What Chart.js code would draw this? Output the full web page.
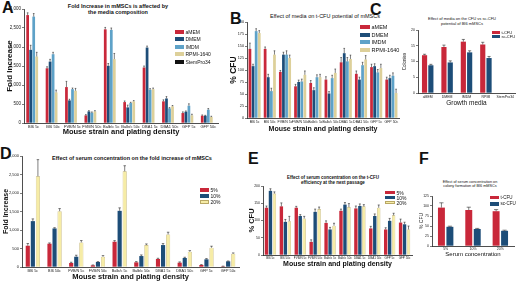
<!DOCTYPE html>
<html>
<head>
<meta charset="utf-8">
<script src="https://cdn.jsdelivr.net/npm/chart.js@4.4.1/dist/chart.umd.min.js"></script>
<style>
body{margin:0;width:520px;height:283px;background:#fff;position:relative;overflow:hidden;font-family:"Liberation Sans",Arial,sans-serif;color:#111;}
canvas{position:absolute;}
.ttl{position:absolute;text-align:center;white-space:nowrap;line-height:1.15;transform:translateX(-50%);}
.lbl{position:absolute;font-weight:bold;font-size:16px;line-height:1;}
.leg{position:absolute;}
.leg div{display:flex;align-items:center;white-space:nowrap;}
.leg span{display:inline-block;box-sizing:border-box;}
</style>
</head>
<body>
<div class="lbl" style="left:2px;top:0px">A</div>
<div class="lbl" style="left:230px;top:11px">B</div>
<div class="lbl" style="left:370px;top:2px">C</div>
<div class="lbl" style="left:0px;top:146px">D</div>
<div class="lbl" style="left:248px;top:151px">E</div>
<div class="lbl" style="left:419px;top:151px">F</div>

<div class="ttl" style="left:118px;top:3px;font-size:5.5px;font-weight:bold">Fold Increase in mMSCs is affected by<br>the media composition</div>
<div class="ttl" style="left:325px;top:13px;font-size:5.5px">Effect of media on t-CFU potential of mMSCs</div>
<div class="ttl" style="left:462px;top:17px;font-size:4px">Effect of media on the CFU vs sc-CFU<br>potential of BI6 mMSCs</div>
<div class="ttl" style="left:132px;top:155px;font-size:5.5px;font-weight:bold">Effect of serum concentration on the fold increase of mMSCs</div>
<div class="ttl" style="left:333px;top:175px;font-size:4.5px;font-weight:bold">Effect of serum concentration on the t-CFU<br>efficiency at the next passage</div>
<div class="ttl" style="left:470px;top:180px;font-size:3.8px">Effect of serum concentration on<br>colony formation of BI6 mMSCs</div>

<canvas id="chartA" style="left:0px;top:0px" width="222" height="140"></canvas>
<canvas id="chartB" style="left:225px;top:10px" width="178" height="128"></canvas>
<canvas id="chartC" style="left:398px;top:25px" width="120" height="85"></canvas>
<canvas id="chartD" style="left:0px;top:150px" width="242" height="133"></canvas>
<canvas id="chartE" style="left:245px;top:180px" width="170" height="90"></canvas>
<canvas id="chartF" style="left:414px;top:190px" width="104" height="68"></canvas>

<script>
// categories
const strains = ["BI6 5c", "BI6 50c", "FVB/N 5c", "FVB/N 50c", "Balb/c 5c", "Balb/c 50c", "DBA1 5c", "DBA1 50c", "GFP 5c", "GFP 50c"];
const mediaNames = ["aMEM", "DMEM", "IMDM", "RPMI-1640", "StemPro34"];
const mediaShort = ["aMEM", "DMEM", "IMDM", "RPMI", "StemPro34"];
const serumNames = ["5%", "10%", "20%"];
const cfuNames = ["t-CFU", "sc-CFU"];

// A - fold increase by media
const foldAmem = [2840, 1440, 945, 200, 2465, 550, 1460, 570, 262, 192];
const foldDmem = [1925, 1615, 595, 305, 1505, 410, 1985, 645, 297, 192];
const foldImdm = [2800, 1810, 890, 270, 2450, 525, 875, 385, 455, 350];
const foldRpmi = [1750, 805, 850, 305, 1680, 570, 890, 440, 201, 157];
const foldStem = [0, 0, 0, 0, 0, 0, 0, 0, 0, 0];
const foldAmemErr = [60, 40, 150, 20, 50, 30, 40, 40, 30, 20];
const foldDmemErr = [120, 60, 30, 20, 60, 60, 40, 50, 20, 10];
const foldImdmErr = [80, 50, 30, 20, 50, 20, 30, 20, 50, 30];
const foldRpmiErr = [110, 60, 60, 20, 150, 20, 30, 20, 30, 20];

// B - % CFU by media
const cfuAmem = [144, 144, 96, 66, 73, 80, 116, 92, 106, 80];
const cfuDmem = [108, 85, 132, 75, 58, 51, 135, 80, 108, 83];
const cfuImdm = [181, 56, 132, 76, 85, 83, 118, 110, 95, 88];
const cfuRpmi = [177, 132, 125, 90, 85, 94, 123, 122, 104, 52];
const cfuAmemErr = [12, 4, 3, 4, 5, 6, 10, 6, 6, 5];
const cfuDmemErr = [4, 6, 5, 4, 5, 4, 10, 5, 5, 6];
const cfuImdmErr = [5, 6, 8, 5, 5, 6, 8, 6, 6, 6];
const cfuRpmiErr = [5, 8, 6, 8, 6, 8, 8, 8, 8, 8];

// C - colonies by media (BI6)
const colT = [12.0, 14.6, 16.3, 15.4, 0];
const colSc = [8.8, 9.7, 12.9, 11.1, 0];
const colTErr = [0.3, 0.6, 0.7, 0.7, 0];
const colScErr = [0.3, 0.5, 0.5, 0.5, 0];

// D - fold increase by serum
const foldS5 = [575, 630, 108, 45, 683, 126, 216, 117, 54, 18];
const foldS10 = [1240, 1042, 278, 135, 1518, 296, 593, 243, 207, 153];
const foldS20 = [2452, 1509, 665, 278, 2587, 593, 880, 413, 522, 360];
const foldS5Err = [60, 20, 20, 10, 30, 20, 20, 20, 10, 5];
const foldS10Err = [60, 20, 40, 10, 80, 30, 40, 20, 20, 10];
const foldS20Err = [450, 70, 50, 30, 150, 30, 60, 30, 40, 20];

// E - % CFU by serum
const cfuS5 = [137, 141, 137, 38, 93, 128, 135, 77, 74, 94];
const cfuS10 = [186, 96, 113, 125, 74, 146, 142, 113, 99, 89];
const cfuS20 = [178, 98, 106, 133, 85, 139, 141, 137, 115, 74];
const cfuS5Err = [5, 10, 4, 6, 6, 5, 7, 6, 5, 10];
const cfuS10Err = [6, 7, 4, 8, 6, 6, 6, 6, 7, 6];
const cfuS20Err = [5, 14, 6, 6, 7, 10, 5, 8, 6, 10];

// F - % CFU BI6 by serum
const serT = [96, 90, 87];
const serSc = [48, 42.5, 38];
const serTErr = [12, 7, 4];
const serScErr = [1.5, 1.5, 1.5];

const RED = "#c9283a", NAVY = "#1d4d78", SKY = "#5ea2c8", TAN = "#ddd09a", BLACK = "#111111", YEL = "#f6eca6";
const YEL_EDGE = "#b9a865";

const errorBars = {
  id: "errorBars",
  afterDatasetsDraw(chart) {
    const ctx = chart.ctx, y = chart.scales.y;
    chart.data.datasets.forEach((ds, i) => {
      if (!ds.err) return;
      chart.getDatasetMeta(i).data.forEach((bar, j) => {
        const e = ds.err[j];
        if (!e) return;
        const top = y.getPixelForValue(ds.data[j] + e);
        const cap = Math.max(0.8, bar.width * 0.3);
        ctx.save();
        ctx.strokeStyle = "#2a2a2a";
        ctx.lineWidth = 0.6;
        ctx.beginPath();
        ctx.moveTo(bar.x, bar.y);
        ctx.lineTo(bar.x, top);
        ctx.moveTo(bar.x - cap, top);
        ctx.lineTo(bar.x + cap, top);
        ctx.stroke();
        ctx.restore();
      });
    });
  }
};

function ds(label, data, err, color, edge) {
  return { label: label, data: data, err: err, backgroundColor: color, borderColor: edge || color, borderWidth: edge ? 0.6 : 0 };
}

function makeChart(id, p) {
  new Chart(document.getElementById(id).getContext("2d"), {
    type: "bar",
    data: { labels: p.labels, datasets: p.datasets },
    plugins: [errorBars],
    options: {
      responsive: false,
      animation: false,
      devicePixelRatio: 1,
      datasets: { bar: { categoryPercentage: p.cat, barPercentage: p.bar } },
      layout: { padding: { top: p.padTop, right: p.padRight, left: 0, bottom: 0 } },
      plugins: { legend: { display: false }, tooltip: { enabled: false } },
      scales: {
        x: {
          grid: { display: false, drawTicks: false, tickLength: 0 },
          border: { display: true, color: "#222", width: 0.8 },
          ticks: { font: { size: p.xtick, family: "Liberation Sans" }, color: "#222", maxRotation: 0, minRotation: 0, autoSkip: false, padding: p.xtickpad },
          title: { display: true, text: p.xtitle, color: "#111", font: { size: p.xtsize, weight: p.xtweight, family: "Liberation Sans", lineHeight: 1 }, padding: { top: 0, bottom: p.xtpad } },
          afterFit(s) { s.height = p.xh; }
        },
        y: {
          min: 0, max: p.ymax,
          grid: { drawOnChartArea: false, tickLength: 2, color: "#222", lineWidth: 0.6 },
          border: { display: true, color: "#222", width: 0.8 },
          ticks: { stepSize: p.step, font: { size: p.ytick, family: "Liberation Sans" }, color: "#222", padding: 1 },
          title: { display: true, text: p.ytitle, color: "#111", font: { size: p.ytsize, weight: p.ytweight, family: "Liberation Sans", lineHeight: 1 }, padding: { top: p.ytpad, bottom: 0 } },
          afterFit(s) { s.width = p.yw; }
        }
      }
    }
  });
}

function makeLegend(left, top, names, colors, o) {
  const box = document.createElement("div");
  box.className = "leg";
  box.style.left = left + "px";
  box.style.top = top + "px";
  box.style.fontSize = o.font + "px";
  names.forEach((n, i) => {
    const row = document.createElement("div");
    row.style.height = o.gap + "px";
    const sw = document.createElement("span");
    sw.style.width = o.bw + "px";
    sw.style.height = o.bh + "px";
    sw.style.background = colors[i];
    if (colors[i] === YEL) sw.style.border = "0.6px solid " + YEL_EDGE;
    sw.style.marginRight = "1.5px";
    const tx = document.createElement("span");
    tx.textContent = n;
    row.appendChild(sw);
    row.appendChild(tx);
    box.appendChild(row);
  });
  document.body.appendChild(box);
}

makeChart("chartA", {
  labels: strains,
  datasets: [
    ds(mediaNames[0], foldAmem, foldAmemErr, RED),
    ds(mediaNames[1], foldDmem, foldDmemErr, NAVY),
    ds(mediaNames[2], foldImdm, foldImdmErr, SKY),
    ds(mediaNames[3], foldRpmi, foldRpmiErr, TAN),
    ds(mediaNames[4], foldStem, null, BLACK)
  ],
  cat: 0.78, bar: 0.9, padTop: 9, padRight: 4, yw: 24, xh: 17,
  ymax: 3000, step: 500, xtick: 4, ytick: 4.5, xtickpad: 1.5,
  xtitle: "Mouse strain and plating density", xtsize: 7.5, xtweight: "bold", xtpad: 4,
  ytitle: "Fold Increase", ytsize: 8, ytweight: "bold", ytpad: 6
});

makeChart("chartB", {
  labels: strains,
  datasets: [
    ds(mediaNames[0], cfuAmem, cfuAmemErr, RED),
    ds(mediaNames[1], cfuDmem, cfuDmemErr, NAVY),
    ds(mediaNames[2], cfuImdm, cfuImdmErr, SKY),
    ds(mediaNames[3], cfuRpmi, cfuRpmiErr, TAN)
  ],
  cat: 0.82, bar: 0.88, padTop: 12, padRight: 4, yw: 22, xh: 20,
  ymax: 200, step: 25, xtick: 3.5, ytick: 3.8, xtickpad: 2,
  xtitle: "Mouse strain and plating density", xtsize: 7, xtweight: "bold", xtpad: 5,
  ytitle: "% CFU", ytsize: 8.5, ytweight: "bold", ytpad: 4
});

makeChart("chartC", {
  labels: mediaShort,
  datasets: [
    ds(cfuNames[0], colT, colTErr, RED),
    ds(cfuNames[1], colSc, colScErr, NAVY)
  ],
  cat: 0.65, bar: 0.82, padTop: 5, padRight: 3, yw: 20, xh: 17,
  ymax: 20, step: 5, xtick: 3.5, ytick: 3.5, xtickpad: 1.5,
  xtitle: "Growth media", xtsize: 6.5, xtweight: "normal", xtpad: 4,
  ytitle: "Colonies", ytsize: 4.5, ytweight: "normal", ytpad: 5
});

makeChart("chartD", {
  labels: strains,
  datasets: [
    ds(serumNames[0], foldS5, foldS5Err, RED),
    ds(serumNames[1], foldS10, foldS10Err, NAVY),
    ds(serumNames[2], foldS20, foldS20Err, YEL, YEL_EDGE)
  ],
  cat: 0.7, bar: 0.82, padTop: 6, padRight: 3, yw: 22, xh: 16,
  ymax: 3000, step: 500, xtick: 3.8, ytick: 4, xtickpad: 1.5,
  xtitle: "Mouse strain and plating density", xtsize: 7.5, xtweight: "bold", xtpad: 2,
  ytitle: "Fold Increase", ytsize: 7, ytweight: "bold", ytpad: 3
});

makeChart("chartE", {
  labels: strains,
  datasets: [
    ds(serumNames[0], cfuS5, cfuS5Err, RED),
    ds(serumNames[1], cfuS10, cfuS10Err, NAVY),
    ds(serumNames[2], cfuS20, cfuS20Err, YEL, YEL_EDGE)
  ],
  cat: 0.8, bar: 0.85, padTop: 6, padRight: 3, yw: 18, xh: 15,
  ymax: 200, step: 50, xtick: 3, ytick: 3.5, xtickpad: 1.5,
  xtitle: "Mouse strain and plating density", xtsize: 7, xtweight: "bold", xtpad: 2,
  ytitle: "% CFU", ytsize: 7.5, ytweight: "bold", ytpad: 3
});

makeChart("chartF", {
  labels: serumNames,
  datasets: [
    ds(cfuNames[0], serT, serTErr, RED),
    ds(cfuNames[1], serSc, serScErr, NAVY)
  ],
  cat: 0.62, bar: 0.82, padTop: 6, padRight: 4, yw: 18, xh: 12,
  ymax: 125, step: 25, xtick: 3.5, ytick: 3.5, xtickpad: 1,
  xtitle: "Serum concentration", xtsize: 6, xtweight: "normal", xtpad: 1,
  ytitle: "% CFU", ytsize: 5, ytweight: "normal", ytpad: 5
});

makeLegend(175, 28, mediaNames, [RED, NAVY, SKY, TAN, BLACK], { font: 5, gap: 7.5, bw: 9, bh: 4 });
makeLegend(360, 23.5, mediaNames.slice(0, 4), [RED, NAVY, SKY, TAN], { font: 5.5, gap: 7.6, bw: 10, bh: 4 });
makeLegend(492, 30.5, cfuNames, [RED, NAVY], { font: 4, gap: 4.2, bw: 8, bh: 2.8 });
makeLegend(200, 187, serumNames, [RED, NAVY, YEL], { font: 5, gap: 6, bw: 9, bh: 3.5 });
makeLegend(385, 190, serumNames, [RED, NAVY, YEL], { font: 5, gap: 5, bw: 10, bh: 3.5 });
makeLegend(490, 194, cfuNames, [RED, NAVY], { font: 4.5, gap: 6.5, bw: 9, bh: 3.5 });
</script>
</body>
</html>
